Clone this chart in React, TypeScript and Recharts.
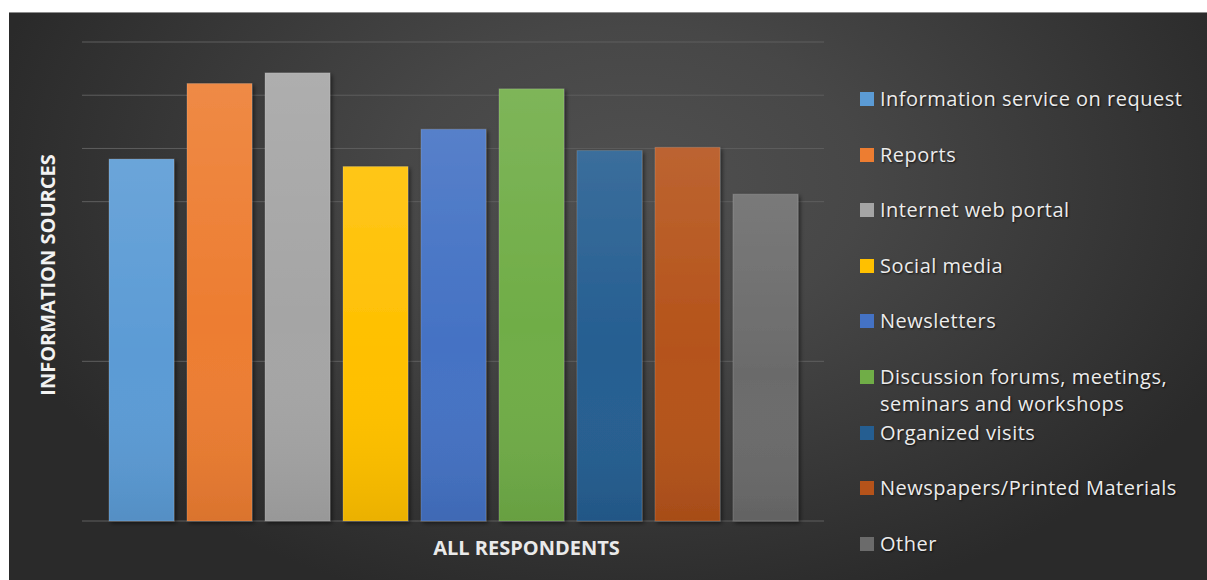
import { BarChart, Bar, XAxis, YAxis, CartesianGrid, Label } from "recharts"

const categories = ["ALL RESPONDENTS"]

const sourceNames = [
  "Information service on request",
  "Reports",
  "Internet web portal",
  "Social media",
  "Newsletters",
  "Discussion forums, meetings, seminars and workshops",
  "Organized visits",
  "Newspapers/Printed Materials",
  "Other",
]

// one value per source (hidden axis, 0..45)
const sourceValues = [34.0, 41.1, 42.1, 33.3, 36.8, 40.6, 34.8, 35.1, 30.7]

const sourceColors = [
  "#5b9bd5", "#ed7d31", "#a5a5a5", "#ffc000", "#4472c4",
  "#70ad47", "#255e91", "#b5531a", "#6b6b6b",
]

// gridlines that show in the original
const yTicks = [15, 30, 35, 40, 45]

const data = categories.map((name) => {
  const row: Record<string, string | number> = { name }
  sourceValues.forEach((v, i) => { row[`s${i}`] = v })
  return row
})

const FONT = "'Open Sans', 'DejaVu Sans', sans-serif"

const BarShape = (props: any) => {
  const { x, y, width, height, fill } = props
  if (!width || !height) return null
  return (
    <g filter="url(#barShadow)">
      <rect x={x} y={y} width={width} height={height} fill={fill} />
      <rect x={x} y={y} width={width} height={height} fill="url(#barSheen)"
        stroke="rgba(255,255,255,0.14)" strokeWidth={1} />
    </g>
  )
}

const NoTick = () => <g />

// legend kept as plain html next to the svg
const LegendList = () => (
  <div style={{ position: "absolute", left: 851, top: 0, width: 340, height: 568, fontFamily: FONT }}>
    {sourceNames.map((n, i) => (
      <div key={n} style={{
        position: "absolute", left: 0, top: 87 + 55.6 * i - 14,
        display: "flex", alignItems: "flex-start", width: 340,
      }}>
        <span style={{
          display: "inline-block", width: 14, height: 14, marginTop: 7,
          marginRight: 6, background: sourceColors[i], flex: "none",
        }} />
        <span style={{
          fontSize: 20, lineHeight: "27px", color: "#ececec", letterSpacing: 0.5,
          textShadow: "1px 1px 2px rgba(0,0,0,0.7)", maxWidth: 310,
        }}>{n}</span>
      </div>
    ))}
  </div>
)

const YTitle = ({ viewBox }: any) => {
  const cy = viewBox.y + viewBox.height / 2 - 6.5
  return (
    <text x={38} y={cy} transform={`rotate(-90 38 ${cy})`} textAnchor="middle"
      dominantBaseline="central" fill="#f2f2f2" fontSize={20} fontWeight={700}
      fontFamily={FONT}>INFORMATION SOURCES</text>
  )
}

const XTitle = ({ viewBox }: any) => {
  const cx = viewBox.x + viewBox.width / 2 + 73.5
  return (
    <text x={cx} y={535} textAnchor="middle" dominantBaseline="central"
      fill="#eaeaea" fontSize={20} fontWeight={700} fontFamily={FONT}>ALL RESPONDENTS</text>
  )
}

export default function App() {
  return (
    <div style={{
      position: "absolute", left: 9, top: 12, width: 1198, height: 568,
      background: "radial-gradient(ellipse 55% 78% at 52% 30%, #505050 0%, #474747 35%, #2a2a2a 100%)",
      boxShadow: "inset 0 1px 0 #8c8c8c",
    }}>
      <BarChart width={1198} height={568} data={data}
        margin={{ top: 30, right: 383, bottom: 0, left: 0 }}
        barSize={65} barGap={13}>
        <defs>
          <linearGradient id="barSheen" x1="0" y1="0" x2="0" y2="1">
            <stop offset="0%" stopColor="#ffffff" stopOpacity={0.1} />
            <stop offset="55%" stopColor="#ffffff" stopOpacity={0} />
            <stop offset="100%" stopColor="#000000" stopOpacity={0.08} />
          </linearGradient>
          <filter id="barShadow" x="-20%" y="-10%" width="140%" height="120%">
            <feDropShadow dx="2" dy="2" stdDeviation="2" floodColor="#000" floodOpacity={0.55} />
          </filter>
        </defs>
        <CartesianGrid vertical={false} stroke="#5e5e5e" strokeWidth={1} />
        <XAxis dataKey="name" height={59} tick={false} axisLine={false} tickLine={false}>
          <Label content={<XTitle />} />
        </XAxis>
        <YAxis width={73} domain={[0, 45]} ticks={yTicks} tick={<NoTick />}
          interval={0} axisLine={false} tickLine={false}>
          <Label content={<YTitle />} />
        </YAxis>
        {sourceNames.map((n, i) => (
          <Bar key={n} dataKey={`s${i}`} name={n} fill={sourceColors[i]}
            shape={<BarShape />} isAnimationActive={false} />
        ))}
      </BarChart>
      <LegendList />
    </div>
  )
}
